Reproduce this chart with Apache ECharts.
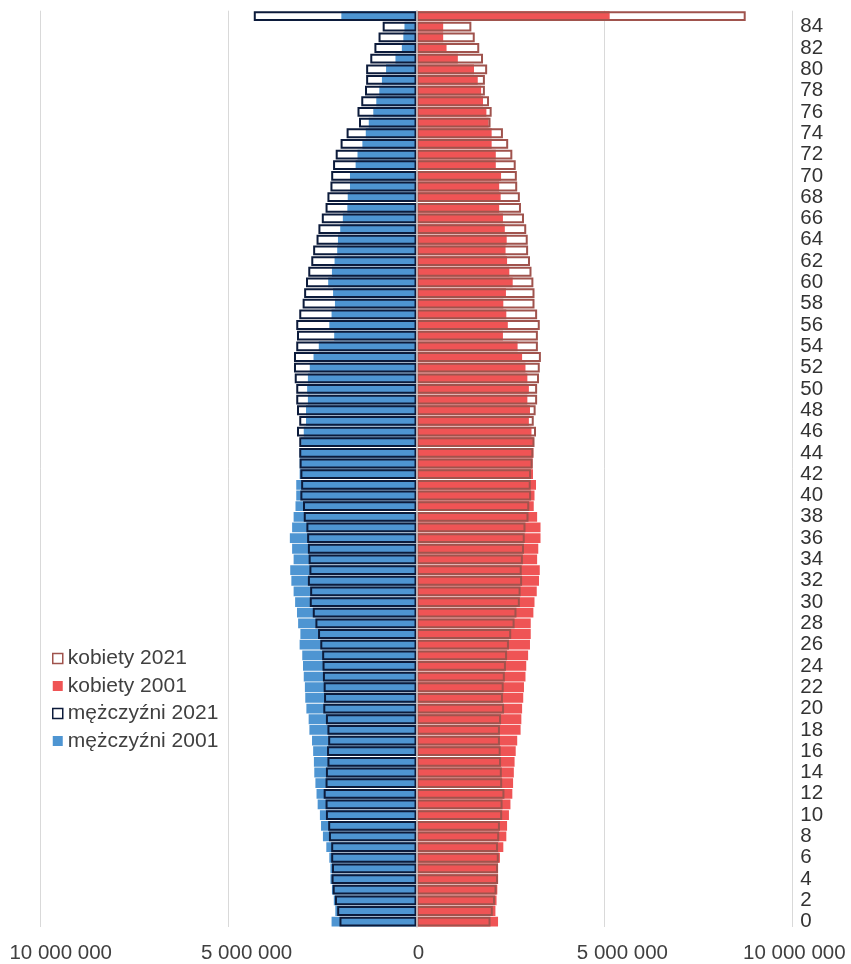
<!DOCTYPE html>
<html><head><meta charset="utf-8">
<script src="https://cdn.jsdelivr.net/npm/echarts@6/dist/echarts.min.js"></script>
<style>html,body{margin:0;padding:0;background:#fff}#c{width:851px;height:964px}</style>
</head><body><div id="c"></div>
<script>
// ages 0..85 (85 = 85+), values in thousands of persons
const ages = ['0','1','2','3','4','5','6','7','8','9','10','11','12','13','14','15','16','17','18','19','20','21','22','23','24','25','26','27','28','29','30','31','32','33','34','35','36','37','38','39','40','41','42','43','44','45','46','47','48','49','50','51','52','53','54','55','56','57','58','59','60','61','62','63','64','65','66','67','68','69','70','71','72','73','74','75','76','77','78','79','80','81','82','83','84','85'];
const men2001 = [2260,2160,2200,2250,2290,2290,2320,2400,2490,2540,2570,2630,2660,2690,2720,2730,2750,2780,2850,2870,2930,2960,2970,3000,3020,3040,3110,3090,3150,3180,3230,3270,3330,3360,3270,3310,3370,3310,3270,3220,3200,3200,3110,3110,3110,3070,3000,2940,2940,2890,2910,2890,2840,2740,2600,2190,2320,2260,2170,2220,2350,2250,2180,2110,2090,2030,1960,1840,1830,1770,1770,1620,1570,1440,1350,1270,1150,1070,990,920,810,560,390,350,320,2000];
const men2021 = [2050,2110,2170,2230,2260,2250,2270,2270,2330,2350,2410,2420,2470,2420,2410,2370,2380,2350,2370,2410,2480,2460,2470,2490,2500,2510,2560,2620,2690,2760,2840,2830,2890,2850,2870,2890,2910,2930,3000,3020,3090,3070,3090,3110,3120,3120,3180,3120,3180,3200,3200,3240,3260,3260,3200,3180,3200,3120,3030,2990,2940,2880,2800,2750,2660,2610,2520,2420,2370,2290,2270,2220,2150,2020,1860,1530,1570,1470,1370,1340,1340,1230,1120,1010,900,4330];
const women2001 = [2170,2100,2130,2150,2170,2170,2220,2310,2390,2410,2460,2500,2550,2570,2590,2610,2640,2680,2770,2790,2810,2840,2860,2900,2920,2970,3020,3040,3040,3110,3140,3200,3260,3280,3210,3240,3300,3300,3210,3120,3140,3180,3100,3090,3110,3120,3060,2990,3020,2950,2990,2950,2900,2810,2690,2300,2430,2390,2310,2380,2560,2470,2410,2370,2400,2350,2300,2200,2240,2200,2250,2110,2110,2000,2000,1920,1860,1770,1720,1630,1530,1100,800,710,710,5140];
const women2021 = [1970,2030,2090,2130,2170,2170,2190,2170,2200,2220,2280,2290,2340,2280,2270,2250,2240,2220,2220,2250,2330,2300,2320,2350,2380,2410,2460,2520,2610,2660,2750,2770,2810,2800,2830,2860,2880,2900,2980,3000,3050,3040,3050,3090,3110,3140,3180,3120,3170,3210,3210,3260,3280,3310,3230,3230,3280,3210,3140,3140,3110,3060,3020,2970,2960,2920,2860,2780,2750,2680,2670,2640,2550,2440,2300,1970,2000,1930,1820,1820,1880,1770,1670,1550,1460,8760];
const xTicks = [-10000, -5000, 0, 5000, 10000];
const seriesNames = ['kobiety 2021','kobiety 2001','mężczyźni 2021','mężczyźni 2001'];

const C_BLUE = '#4E95D2', C_RED = '#EF5455', C_NAVY = '#0C1B3B', C_BROWN = '#A0534D';
const FONT = '"Liberation Sans", Arial, sans-serif';

function fmt(v){
  const n = Math.round(Math.abs(v) * 1000);
  return String(n).replace(/\B(?=(\d{3})+(?!\d))/g, ' ');
}
const shiftStyle = { '-10000':'a', '-5000':'b', '0':'c', '5000':'b', '10000':'c' };

const chart = echarts.init(document.getElementById('c'), null, {renderer:'canvas'});
const labelRich = {
  a: {fontSize:20.5, fontFamily:FONT, color:'#404040', padding:[0,0,0,40]},
  b: {fontSize:20.5, fontFamily:FONT, color:'#404040', padding:[0,0,0,36]},
  c: {fontSize:20.5, fontFamily:FONT, color:'#404040', padding:[0,0,0,4]}
};
chart.setOption({
  backgroundColor:'#ffffff',
  animation:false,
  textStyle:{fontFamily:FONT},
  grid:{left:40.7, right:58.7, top:10.7, bottom:35.3, containLabel:false},
  legend:{
    orient:'vertical', left:52, top:648, padding:0, itemWidth:10, itemHeight:10, itemGap:6.5,
    icon:'rect',
    textStyle:{fontSize:21, fontFamily:FONT, color:'#404040', lineHeight:21},
    data:[
      {name:seriesNames[0], itemStyle:{color:'#ffffff', borderColor:C_BROWN, borderWidth:1.5}},
      {name:seriesNames[1], itemStyle:{color:C_RED, borderWidth:0}},
      {name:seriesNames[2], itemStyle:{color:'#ffffff', borderColor:C_NAVY, borderWidth:1.5}},
      {name:seriesNames[3], itemStyle:{color:C_BLUE, borderWidth:0}}
    ]
  },
  xAxis:{
    type:'value', min:xTicks[0], max:xTicks[xTicks.length-1], interval:5000,
    axisLine:{show:false}, axisTick:{show:false},
    splitLine:{show:true, lineStyle:{color:'#D9D9D9', width:1}},
    axisLabel:{margin:16, formatter:function(v){ const k = shiftStyle[String(v)] || 'c'; return '{'+k+'|'+fmt(v)+'}'; }, rich:labelRich}
  },
  yAxis:[
    {type:'category', data:ages, position:'left', z:5,
     axisLine:{show:true, onZero:true, lineStyle:{color:'#CFCFCF', width:1.5}},
     axisTick:{show:false}, axisLabel:{show:false}, splitLine:{show:false}},
    {type:'category', data:ages, position:'right',
     axisLine:{show:false}, axisTick:{show:false}, splitLine:{show:false},
     axisLabel:{show:true, interval:1, margin:8, align:'left', fontSize:20.5, fontFamily:FONT, color:'#333333', padding:[0,0,7,0]}}
  ],
  series:[
    {name:seriesNames[3], type:'bar', yAxisIndex:0, barGap:'-100%', barCategoryGap:'8%',
     data:men2001.map(v=>-v), itemStyle:{color:C_BLUE}},
    {name:seriesNames[1], type:'bar', yAxisIndex:0, barGap:'-100%', barCategoryGap:'8%',
     data:women2001, itemStyle:{color:C_RED}},
    {name:seriesNames[2], type:'bar', yAxisIndex:0, barGap:'-100%', barCategoryGap:'8%',
     data:men2021.map(v=>-v), itemStyle:{color:'rgba(255,255,255,0)', borderColor:C_NAVY, borderWidth:2}},
    {name:seriesNames[0], type:'bar', yAxisIndex:0, barGap:'-100%', barCategoryGap:'8%',
     data:women2021, itemStyle:{color:'rgba(255,255,255,0)', borderColor:C_BROWN, borderWidth:2}}
  ]
});
</script></body></html>
